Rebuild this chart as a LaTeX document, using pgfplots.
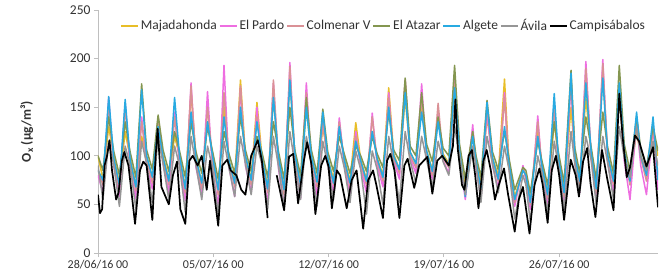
\documentclass[border=0pt]{standalone}
\usepackage{fontspec}
\setmainfont{Carlito}
\usepackage{pgfplots}
\usepackage{pgfplotstable}
\pgfplotsset{compat=1.18}
\definecolor{cmaj}{RGB}{232,190,40}
\definecolor{cpardo}{RGB}{238,110,225}
\definecolor{ccolm}{RGB}{218,145,150}
\definecolor{cataz}{RGB}{132,150,80}
\definecolor{calg}{RGB}{40,170,225}
\definecolor{cavila}{RGB}{150,150,150}
\definecolor{ctext}{RGB}{50,50,50}

\pgfplotstableread{
t maj pardo colm ataz alg avila
0 100 80 85 100 85 90
0.30 76 62 70 85 75 55
0.65 130 160 150 140 161 115
0.95 100 90 95 105 98 92
1.30 72 58 65 80 70 48
1.65 125 155 150 135 158 110
1.95 98 88 94 104 96 90
2.30 70 56 64 78 68 45
2.65 120 140 135 174 168 115
2.95 100 90 96 106 100 92
3.30 78 66 72 86 78 52
3.65 120 135 140 142 130 120
3.95 100 92 96 106 98 92
4.30 76 62 70 84 74 55
4.65 120 145 140 125 160 110
4.95 100 90 96 105 100 90
5.30 68 54 62 78 66 42
5.65 165 175 172 135 145 120
5.95 98 88 94 104 97 90
6.30 72 60 66 82 72 55
6.65 135 166 150 130 135 110
6.95 100 85 95 105 100 88
7.30 66 48 60 76 65 40
7.65 150 193 165 125 140 115
7.95 96 88 94 102 95 88
8.30 74 58 68 82 72 58
8.65 178 170 172 140 150 120
8.95 100 90 96 106 100 92
9.30 76 62 70 84 75 60
9.65 155 150 140 120 135 110
9.95 100 90 95 104 98 92
10.30 68 50 62 78 66 45
10.65 160 175 178 135 160 120
10.95 100 88 96 105 100 90
11.30 66 48 60 76 65 48
11.65 180 196 192 150 178 125
11.95 102 92 98 106 102 92
12.30 72 56 66 80 70 55
12.65 150 175 165 160 150 120
12.95 100 90 96 106 100 92
13.30 74 60 68 82 73 48
13.65 130 140 135 148 145 115
13.95 98 90 95 104 98 90
14.30 76 62 70 84 72 55
14.65 130 139 135 120 130 110
14.95 98 90 94 102 96 88
15.30 74 60 68 82 72 52
15.65 134 125 120 110 115 105
15.95 96 88 92 100 95 86
16.30 76 62 70 84 74 40
16.65 125 144 140 120 125 105
16.95 98 90 94 102 97 86
17.30 80 68 74 88 78 50
17.65 170 165 160 145 150 120
17.95 102 95 98 106 100 92
18.30 86 76 82 95 86 52
18.65 160 178 178 180 165 125
18.95 104 98 100 110 104 95
19.30 92 82 88 100 92 72
19.65 150 174 160 165 145 120
19.95 105 98 102 112 105 96
20.30 86 76 80 94 84 68
20.65 140 145 154 140 135 115
20.95 102 95 98 108 100 94
21.30 92 82 88 100 90 80
21.65 165 180 175 193 170 130
21.95 105 100 102 112 105 100
22.30 68 55 62 76 58 60
22.75 125 132 125 125 120 110
22.95 96 88 92 100 95 90
23.25 70 56 64 78 66 52
23.62 140 145 150 157 155 120
23.95 98 90 95 104 98 92
24.30 80 66 74 86 76 62
24.68 179 165 160 125 130 110
24.95 94 88 90 98 92 86
25.30 58 48 52 65 55 35
25.80 85 90 88 88 85 80
25.98 82 75 78 85 80 70
26.25 55 45 50 62 52 32
26.70 125 141 135 115 120 100
26.95 92 85 88 95 90 82
27.30 62 50 56 70 60 42
27.70 135 155 150 135 164 115
27.95 98 90 95 104 98 90
28.30 64 52 58 72 62 45
28.72 150 175 180 188 185 125
28.95 100 92 98 108 100 92
29.25 76 62 70 82 74 62
29.62 160 197 190 140 175 120
29.95 102 95 100 108 102 95
30.25 68 55 62 76 66 50
30.65 185 199 195 145 180 120
30.95 100 92 98 108 100 92
31.30 76 62 70 82 74 55
31.65 160 170 165 193 175 130
31.95 104 95 100 112 104 98
32.30 76 55 70 84 74 78
32.70 125 135 140 140 145 130
32.95 100 90 98 108 100 100
33.30 80 60 74 88 80 85
33.70 125 130 130 130 140 115
34.00 100 65 80 105 75 90
}\ox

\begin{document}
\begin{tikzpicture}
\begin{axis}[name=ax, scale only axis, width=560pt, height=243pt,
 xmin=0, xmax=34, ymin=0, ymax=250,
 axis x line*=bottom, axis y line*=left,
 axis line style={draw=black!25, line width=0.8pt, -},
 xtick={0,7,14,21,28},
 xticklabels={28/06/16 00,05/07/16 00,12/07/16 00,19/07/16 00,26/07/16 00},
 ytick={0,50,...,250},
 tick align=outside, major tick length=4pt,
 tick style={draw=black!25, line width=0.8pt},
 xticklabel style={font=\fontsize{12}{14}\selectfont, text=ctext},
 yticklabel style={font=\fontsize{13.5}{16}\selectfont, text=ctext},
 /pgf/number format/assume math mode=true,
 ylabel={\textbf{O\textsubscript{x} (µg/m³)}},
 ylabel style={at={(axis description cs:-0.127,0.5)}, anchor=center, font=\fontsize{13.5}{16}\selectfont, text=ctext},
 legend style={at={(0.51,0.978)}, anchor=north, draw=none, fill=none,
   font=\fontsize{13.5}{16}\selectfont\color{ctext}, legend columns=-1},
 legend image code/.code={\draw[#1, line width=1.6pt] (0pt,0pt) -- (17pt,0pt);},
 unbounded coords=jump,
]
\addplot[cmaj, line width=1.5pt, line join=round] table[x=t,y=maj]{\ox};
\addlegendentry{Majadahonda\hspace{7.5pt}}
\addplot[cpardo, line width=1.5pt, line join=round] table[x=t,y=pardo]{\ox};
\addlegendentry{El Pardo\hspace{7.5pt}}
\addplot[ccolm, line width=1.5pt, line join=round] table[x=t,y=colm]{\ox};
\addlegendentry{Colmenar V\hspace{7.5pt}}
\addplot[cataz, line width=1.5pt, line join=round] table[x=t,y=ataz]{\ox};
\addlegendentry{El Atazar\hspace{7.5pt}}
\addplot[calg, line width=1.5pt, line join=round] table[x=t,y=alg]{\ox};
\addlegendentry{Algete\hspace{7.5pt}}
\addplot[cavila, line width=1.5pt, line join=round] table[x=t,y=avila]{\ox};
\addlegendentry{Ávila\hspace{7.5pt}}
\addplot[black, line width=1.7pt, line join=round] coordinates {
(0,60) (0.12,41) (0.25,45) (0.4,90) (0.55,100) (0.7,116) (0.85,85) (1.1,55) (1.25,62) (1.45,95) (1.6,104) (1.85,90) (2.25,30) (2.55,85) (2.75,94) (2.95,90) (3.3,34) (3.5,100) (3.62,128) (3.85,68) (4.3,50) (4.55,80) (4.8,94) (5.0,45) (5.3,30) (5.55,95) (5.75,100) (6.05,90) (6.3,100) (6.6,65) (6.8,95) (7.3,28) (7.55,90) (7.85,96) (8.05,85) (8.4,80) (8.7,65) (8.95,60) (9.3,100) (9.7,116) (9.95,95) (10.3,36)
(10.6,nan)
(10.85,80) (11.3,44) (11.6,99) (11.85,102) (12.15,51) (12.5,95) (12.7,114) (12.95,92) (13.2,40) (13.55,90) (13.8,100) (14.0,89) (14.2,46) (14.5,85) (14.7,80) (15.1,46) (15.4,75) (15.7,85) (16.1,25) (16.4,75) (16.7,85) (16.9,70) (17.3,36) (17.55,95) (17.75,102) (18.0,85) (18.3,36) (18.6,90) (18.8,97) (19.2,67) (19.5,90) (20.0,99) (20.3,61) (20.6,95) (20.9,100) (21.3,90) (21.55,110) (21.7,158) (21.85,106) (22.1,70) (22.25,65) (22.5,100) (22.7,106) (22.9,80) (23.1,46) (23.4,95) (23.6,106) (23.85,85) (24.1,55) (24.3,68) (24.65,87) (24.9,60) (25.3,22) (25.55,55) (25.8,68) (26.2,20) (26.5,70) (26.8,87) (27.0,70) (27.3,31) (27.55,85) (27.8,100) (28.0,80) (28.3,34) (28.7,96) (29.0,80) (29.2,58) (29.45,94) (29.7,108) (29.9,72) (30.2,37) (30.6,106) (30.9,78) (31.3,44) (31.5,110) (31.65,164) (31.85,120) (32.1,78) (32.3,88) (32.6,121) (32.85,115) (33.3,89) (33.7,109) (34.0,47)
};
\addlegendentry{Campisábalos}
\end{axis}
\path ([shift={(-98pt,-24pt)}]ax.south west) rectangle ([shift={(568pt,253pt)}]ax.south west);
\end{tikzpicture}
\end{document}
